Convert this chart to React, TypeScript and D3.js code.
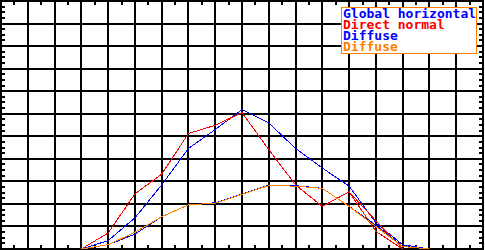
import React from "react";
import * as d3 from "d3";

const W = 485;
const H = 250;

// x positions (grid units 0..18), y values in W/m² (0..1100)
const hours = [3, 4, 5, 6, 7, 8, 9, 10, 11, 12, 13, 14, 15, 16];
const globalHorizontal = [0, 37, 138, 284, 446, 530, 618, 559, 446, 359, 279, 116, 19, 0];
const directNormalHours = [3, 4, 5, 6, 7, 8, 9, 10, 11, 12, 13, 14, 15];
const directNormal = [0, 71, 244, 332, 512, 549, 605, 441, 284, 189, 254, 78, 0];
const directNormalAltHours = [13, 14, 15];
const directNormalAlt = [254, 125, 0];
const diffuseBlue = [0, 19, 66, 143, 196, 205, 243, 284, 281, 269, 189, 106, 12, 0];
const diffuseOrange = [0, 19, 74, 143, 196, 203, 243, 281, 279, 269, 189, 100, 11, 0];

const xTicksMajor = d3.range(0, 19, 1);
const xTicksMinor = d3.range(0.5, 18, 1);
const yTicksMajor = d3.range(0, 1101, 100);
const yTicksMinor = d3.range(25, 1100, 25).filter((v) => v % 100 !== 0);

const legendItems = [
  { label: "Global horizontal", color: "#0000ff" },
  { label: "Direct normal", color: "#ff0000" },
  { label: "Diffuse", color: "#0000ff" },
  { label: "Diffuse", color: "#ff8000" },
];

export default function App() {
  const x = d3.scaleLinear().domain([0, 18]).range([1, 483]);
  const y = d3.scaleLinear().domain([0, 1100]).range([249, 1]);
  const line = d3
    .line<[number, number]>()
    .x((d) => x(d[0]))
    .y((d) => y(d[1]));

  const zip = (xs: number[], ys: number[]) =>
    xs.map((v, i) => [v, ys[i]] as [number, number]);

  const series = [
    { pts: zip(hours, globalHorizontal), color: "#0000ff" },
    { pts: zip(directNormalHours, directNormal), color: "#ff0000" },
    { pts: zip(directNormalAltHours, directNormalAlt), color: "#ff0000" },
    { pts: zip(hours, diffuseBlue), color: "#0000ff" },
    { pts: zip(hours, diffuseOrange), color: "#ff8000" },
  ];

  const tk = 4;

  return (
    <svg
      width={W}
      height={H}
      style={{ position: "absolute", left: 0, top: 0, background: "#fff" }}
    >
      <rect x={0} y={0} width={W} height={H} fill="#fff" />
      <g stroke="#000" strokeWidth={2} shapeRendering="crispEdges">
        {xTicksMajor.map((t) => (
          <line key={"vx" + t} x1={x(t)} x2={x(t)} y1={y(0) + 1} y2={y(1100) - 1} />
        ))}
        {yTicksMajor.map((t) => (
          <line key={"hy" + t} x1={x(0) - 1} x2={x(18) + 1} y1={y(t)} y2={y(t)} />
        ))}
        {xTicksMinor.map((t) => (
          <g key={"mx" + t}>
            <line x1={x(t)} x2={x(t)} y1={y(1100)} y2={y(1100) + tk} />
            <line x1={x(t)} x2={x(t)} y1={y(0)} y2={y(0) - tk} />
          </g>
        ))}
        {yTicksMinor.map((t) => (
          <g key={"my" + t}>
            <line x1={x(0)} x2={x(0) + tk} y1={y(t)} y2={y(t)} />
            <line x1={x(18)} x2={x(18) - tk} y1={y(t)} y2={y(t)} />
          </g>
        ))}
      </g>
      <g fill="none" strokeWidth={1} shapeRendering="crispEdges">
        {series.map((s, i) => (
          <path key={i} d={line(s.pts) || ""} stroke={s.color} />
        ))}
      </g>
      <g>
        <rect
          x={341.5}
          y={7.5}
          width={135}
          height={46}
          fill="#fff"
          stroke="#ff8000"
          strokeWidth={1}
          shapeRendering="crispEdges"
        />
        {legendItems.map((it, i) => (
          <text
            key={i}
            x={343}
            y={17.5 + i * 11}
            fill={it.color}
            fontFamily="'DejaVu Sans Mono', monospace"
            fontWeight="bold"
            fontSize={13}
          >
            {it.label}
          </text>
        ))}
      </g>
    </svg>
  );
}
